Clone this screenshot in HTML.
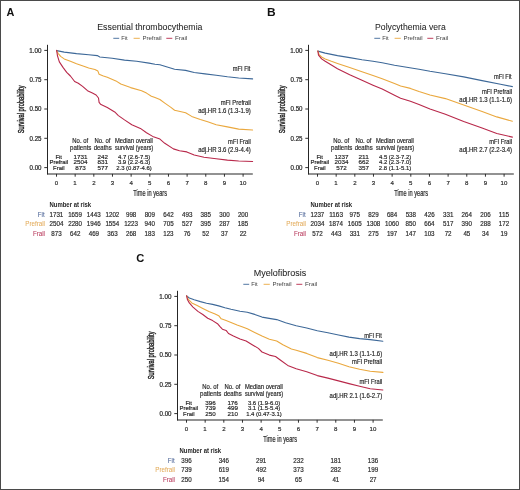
<!DOCTYPE html><html><head><meta charset="utf-8"><style>html,body{margin:0;padding:0;background:#fff;overflow:hidden;}svg{display:block;font-family:"Liberation Sans",sans-serif;filter:blur(0.3px);}</style></head><body>
<svg width="520" height="490" viewBox="0 0 520 490">
<rect x="0" y="0" width="520" height="490" fill="#fff"/>
<text x="6.53" y="15.70" font-size="11.41" font-weight="bold" fill="#111" textLength="7.86" lengthAdjust="spacingAndGlyphs">A</text>
<text x="97.28" y="29.90" font-size="9.74" fill="#1e1e1e" stroke="#1e1e1e" stroke-width="0.05" textLength="105.22" lengthAdjust="spacingAndGlyphs">Essential thrombocythemia</text>
<line x1="113.3" y1="38.3" x2="119.2" y2="38.3" stroke="#3d6898" stroke-width="0.9"/>
<text x="121.22" y="39.80" font-size="5.81" fill="#444" textLength="6.52" lengthAdjust="spacingAndGlyphs">Fit</text>
<line x1="133.6" y1="38.3" x2="139.8" y2="38.3" stroke="#eaa83e" stroke-width="0.9"/>
<text x="142.40" y="39.80" font-size="5.81" fill="#444" textLength="19.20" lengthAdjust="spacingAndGlyphs">Prefrail</text>
<line x1="166.3" y1="38.3" x2="172.3" y2="38.3" stroke="#b8284a" stroke-width="0.9"/>
<text x="174.98" y="39.80" font-size="5.81" fill="#444" textLength="12.24" lengthAdjust="spacingAndGlyphs">Frail</text>
<line x1="47.5" y1="44.8" x2="47.5" y2="174.4" stroke="#262626" stroke-width="1.05"/>
<line x1="47.0" y1="173.9" x2="252.8" y2="173.9" stroke="#262626" stroke-width="1.05"/>
<line x1="44.3" y1="50.40" x2="47.5" y2="50.40" stroke="#262626" stroke-width="0.95"/>
<text x="29.32" y="52.80" font-size="6.36" fill="#2a2a2a" stroke="#2a2a2a" stroke-width="0.22" textLength="12.22" lengthAdjust="spacingAndGlyphs">1.00</text>
<line x1="44.3" y1="79.70" x2="47.5" y2="79.70" stroke="#262626" stroke-width="0.95"/>
<text x="29.56" y="82.10" font-size="6.36" fill="#2a2a2a" stroke="#2a2a2a" stroke-width="0.22" textLength="12.00" lengthAdjust="spacingAndGlyphs">0.75</text>
<line x1="44.3" y1="109.00" x2="47.5" y2="109.00" stroke="#262626" stroke-width="0.95"/>
<text x="29.56" y="111.40" font-size="6.36" fill="#2a2a2a" stroke="#2a2a2a" stroke-width="0.22" textLength="11.98" lengthAdjust="spacingAndGlyphs">0.50</text>
<line x1="44.3" y1="138.30" x2="47.5" y2="138.30" stroke="#262626" stroke-width="0.95"/>
<text x="29.56" y="140.70" font-size="6.36" fill="#2a2a2a" stroke="#2a2a2a" stroke-width="0.22" textLength="12.00" lengthAdjust="spacingAndGlyphs">0.25</text>
<line x1="44.3" y1="167.60" x2="47.5" y2="167.60" stroke="#262626" stroke-width="0.95"/>
<text x="29.56" y="170.00" font-size="6.36" fill="#2a2a2a" stroke="#2a2a2a" stroke-width="0.22" textLength="11.98" lengthAdjust="spacingAndGlyphs">0.00</text>
<line x1="56.50" y1="173.9" x2="56.50" y2="176.7" stroke="#262626" stroke-width="0.95"/>
<text x="54.81" y="185.20" font-size="6.07" fill="#2a2a2a" stroke="#2a2a2a" stroke-width="0.18" textLength="3.38" lengthAdjust="spacingAndGlyphs">0</text>
<line x1="75.16" y1="173.9" x2="75.16" y2="176.7" stroke="#262626" stroke-width="0.95"/>
<text x="73.39" y="185.20" font-size="6.07" fill="#2a2a2a" stroke="#2a2a2a" stroke-width="0.18" textLength="3.38" lengthAdjust="spacingAndGlyphs">1</text>
<line x1="93.82" y1="173.9" x2="93.82" y2="176.7" stroke="#262626" stroke-width="0.95"/>
<text x="92.13" y="185.20" font-size="6.07" fill="#2a2a2a" stroke="#2a2a2a" stroke-width="0.18" textLength="3.38" lengthAdjust="spacingAndGlyphs">2</text>
<line x1="112.48" y1="173.9" x2="112.48" y2="176.7" stroke="#262626" stroke-width="0.95"/>
<text x="110.81" y="185.20" font-size="6.07" fill="#2a2a2a" stroke="#2a2a2a" stroke-width="0.18" textLength="3.38" lengthAdjust="spacingAndGlyphs">3</text>
<line x1="131.14" y1="173.9" x2="131.14" y2="176.7" stroke="#262626" stroke-width="0.95"/>
<text x="129.47" y="185.20" font-size="6.07" fill="#2a2a2a" stroke="#2a2a2a" stroke-width="0.18" textLength="3.38" lengthAdjust="spacingAndGlyphs">4</text>
<line x1="149.80" y1="173.9" x2="149.80" y2="176.7" stroke="#262626" stroke-width="0.95"/>
<text x="148.12" y="185.20" font-size="6.07" fill="#2a2a2a" stroke="#2a2a2a" stroke-width="0.18" textLength="3.38" lengthAdjust="spacingAndGlyphs">5</text>
<line x1="168.46" y1="173.9" x2="168.46" y2="176.7" stroke="#262626" stroke-width="0.95"/>
<text x="166.75" y="185.20" font-size="6.07" fill="#2a2a2a" stroke="#2a2a2a" stroke-width="0.18" textLength="3.38" lengthAdjust="spacingAndGlyphs">6</text>
<line x1="187.12" y1="173.9" x2="187.12" y2="176.7" stroke="#262626" stroke-width="0.95"/>
<text x="185.43" y="185.20" font-size="6.07" fill="#2a2a2a" stroke="#2a2a2a" stroke-width="0.18" textLength="3.38" lengthAdjust="spacingAndGlyphs">7</text>
<line x1="205.78" y1="173.9" x2="205.78" y2="176.7" stroke="#262626" stroke-width="0.95"/>
<text x="204.09" y="185.20" font-size="6.07" fill="#2a2a2a" stroke="#2a2a2a" stroke-width="0.18" textLength="3.38" lengthAdjust="spacingAndGlyphs">8</text>
<line x1="224.44" y1="173.9" x2="224.44" y2="176.7" stroke="#262626" stroke-width="0.95"/>
<text x="222.75" y="185.20" font-size="6.07" fill="#2a2a2a" stroke="#2a2a2a" stroke-width="0.18" textLength="3.38" lengthAdjust="spacingAndGlyphs">9</text>
<line x1="243.10" y1="173.9" x2="243.10" y2="176.7" stroke="#262626" stroke-width="0.95"/>
<text x="239.61" y="185.20" font-size="6.07" fill="#2a2a2a" stroke="#2a2a2a" stroke-width="0.18" textLength="6.76" lengthAdjust="spacingAndGlyphs">10</text>
<text x="133.37" y="196.40" font-size="8.43" fill="#2a2a2a" stroke="#2a2a2a" stroke-width="0.2" textLength="33.63" lengthAdjust="spacingAndGlyphs">Time in years</text>
<text transform="translate(24.0,133.0) rotate(-90)" x="-0.26" y="0" font-size="8.58" fill="#222" stroke="#222" stroke-width="0.4" textLength="47.77" lengthAdjust="spacingAndGlyphs">Survival probability</text>
<text x="72.31" y="142.90" font-size="6.70" fill="#262626" stroke="#262626" stroke-width="0.18" textLength="15.88" lengthAdjust="spacingAndGlyphs">No. of</text>
<text x="94.51" y="142.90" font-size="6.70" fill="#262626" stroke="#262626" stroke-width="0.18" textLength="15.88" lengthAdjust="spacingAndGlyphs">No. of</text>
<text x="114.92" y="142.90" font-size="6.70" fill="#262626" stroke="#262626" stroke-width="0.18" textLength="37.97" lengthAdjust="spacingAndGlyphs">Median overall</text>
<text x="70.01" y="149.80" font-size="6.70" fill="#262626" stroke="#262626" stroke-width="0.18" textLength="21.42" lengthAdjust="spacingAndGlyphs">patients</text>
<text x="93.65" y="149.80" font-size="6.70" fill="#262626" stroke="#262626" stroke-width="0.18" textLength="18.07" lengthAdjust="spacingAndGlyphs">deaths</text>
<text x="115.04" y="149.80" font-size="6.70" fill="#262626" stroke="#262626" stroke-width="0.18" textLength="38.21" lengthAdjust="spacingAndGlyphs">survival (years)</text>
<text x="55.38" y="158.60" font-size="6.25" fill="#262626" stroke="#262626" stroke-width="0.18" textLength="6.60" lengthAdjust="spacingAndGlyphs">Fit</text>
<text x="73.46" y="158.60" font-size="6.25" fill="#262626" stroke="#262626" stroke-width="0.18" textLength="13.90" lengthAdjust="spacingAndGlyphs">1731</text>
<text x="97.49" y="158.60" font-size="6.25" fill="#262626" stroke="#262626" stroke-width="0.18" textLength="10.43" lengthAdjust="spacingAndGlyphs">242</text>
<text x="117.94" y="158.60" font-size="6.25" fill="#262626" stroke="#262626" stroke-width="0.18" textLength="32.34" lengthAdjust="spacingAndGlyphs">4.7 (2.6-7.5)</text>
<text x="49.45" y="164.40" font-size="6.25" fill="#262626" stroke="#262626" stroke-width="0.18" textLength="18.81" lengthAdjust="spacingAndGlyphs">Prefrail</text>
<text x="73.48" y="164.40" font-size="6.25" fill="#262626" stroke="#262626" stroke-width="0.18" textLength="13.90" lengthAdjust="spacingAndGlyphs">2504</text>
<text x="97.50" y="164.40" font-size="6.25" fill="#262626" stroke="#262626" stroke-width="0.18" textLength="10.43" lengthAdjust="spacingAndGlyphs">831</text>
<text x="117.90" y="164.40" font-size="6.25" fill="#262626" stroke="#262626" stroke-width="0.18" textLength="32.34" lengthAdjust="spacingAndGlyphs">3.9 (2.2-6.3)</text>
<text x="53.08" y="170.20" font-size="6.25" fill="#262626" stroke="#262626" stroke-width="0.18" textLength="11.54" lengthAdjust="spacingAndGlyphs">Frail</text>
<text x="75.29" y="170.20" font-size="6.25" fill="#262626" stroke="#262626" stroke-width="0.18" textLength="10.43" lengthAdjust="spacingAndGlyphs">873</text>
<text x="97.52" y="170.20" font-size="6.25" fill="#262626" stroke="#262626" stroke-width="0.18" textLength="10.43" lengthAdjust="spacingAndGlyphs">577</text>
<text x="116.21" y="170.20" font-size="6.25" fill="#262626" stroke="#262626" stroke-width="0.18" textLength="35.65" lengthAdjust="spacingAndGlyphs">2.3 (0.87-4.6)</text>
<text x="232.82" y="70.70" font-size="6.70" fill="#262626" stroke="#262626" stroke-width="0.18" textLength="17.62" lengthAdjust="spacingAndGlyphs">mFI Fit</text>
<text x="220.71" y="104.90" font-size="6.70" fill="#262626" stroke="#262626" stroke-width="0.18" textLength="30.08" lengthAdjust="spacingAndGlyphs">mFI Prefrail</text>
<text x="198.15" y="112.80" font-size="6.70" fill="#262626" stroke="#262626" stroke-width="0.18" textLength="52.63" lengthAdjust="spacingAndGlyphs">adj.HR 1.6 (1.3-1.9)</text>
<text x="228.12" y="143.90" font-size="6.70" fill="#262626" stroke="#262626" stroke-width="0.18" textLength="22.67" lengthAdjust="spacingAndGlyphs">mFI Frail</text>
<text x="198.15" y="151.80" font-size="6.70" fill="#262626" stroke="#262626" stroke-width="0.18" textLength="52.63" lengthAdjust="spacingAndGlyphs">adj.HR 3.6 (2.9-4.4)</text>
<polyline points="56.65,50.65 64.20,52.10 76.50,53.60 88.70,54.80 97.30,55.60 99.75,57.00 112.20,58.20 124.50,60.10 136.70,61.30 149.00,63.10 155.00,64.30 159.90,64.80 167.20,67.00 174.60,69.20 185.60,70.40 194.20,72.50 205.00,73.90 216.20,75.30 227.40,76.80 238.70,78.00 252.60,78.90" fill="none" stroke="#3d6898" stroke-width="1.1" stroke-linejoin="round" stroke-linecap="round"/>
<polyline points="56.65,50.65 58.10,53.30 60.60,56.40 64.20,58.90 70.40,61.30 76.50,63.75 83.80,66.20 88.70,68.00 94.90,69.50 97.90,71.10 99.10,74.20 103.40,76.00 107.30,77.20 115.90,80.90 120.80,84.00 130.60,87.60 141.60,90.70 146.50,93.10 151.40,96.20 155.00,97.60 159.90,99.50 164.80,103.10 170.90,107.40 174.60,110.30 185.60,112.70 191.70,116.40 200.30,119.50 207.70,121.80 216.20,124.70 227.40,126.90 238.70,129.10 252.60,130.00" fill="none" stroke="#eaa83e" stroke-width="1.1" stroke-linejoin="round" stroke-linecap="round"/>
<polyline points="56.65,50.30 57.50,55.80 59.35,61.90 63.00,67.40 66.70,72.30 70.40,76.00 74.65,81.50 78.30,83.30 82.60,86.40 87.50,90.70 92.40,93.10 96.10,95.00 98.50,98.00 99.10,102.30 100.50,104.20 107.30,107.60 114.70,111.90 118.40,115.60 124.50,119.90 131.80,124.80 140.40,128.40 146.50,132.70 152.70,136.40 159.90,139.10 164.80,143.30 173.40,148.90 179.50,150.70 186.80,151.90 194.20,155.00 204.00,157.20 216.20,158.80 227.40,160.10 238.70,161.00 252.60,161.50" fill="none" stroke="#b8284a" stroke-width="1.1" stroke-linejoin="round" stroke-linecap="round"/>
<text x="49.50" y="206.80" font-size="6.54" font-weight="bold" fill="#262626" textLength="41.69" lengthAdjust="spacingAndGlyphs">Number at risk</text>
<text x="37.74" y="216.70" font-size="6.54" fill="#4f6799" stroke="#4f6799" stroke-width="0.05" textLength="6.90" lengthAdjust="spacingAndGlyphs">Fit</text>
<text x="49.50" y="216.70" font-size="6.54" fill="#2a2a2a" stroke="#2a2a2a" stroke-width="0.18" textLength="13.82" lengthAdjust="spacingAndGlyphs">1731</text>
<text x="68.16" y="216.70" font-size="6.54" fill="#2a2a2a" stroke="#2a2a2a" stroke-width="0.18" textLength="13.82" lengthAdjust="spacingAndGlyphs">1659</text>
<text x="86.81" y="216.70" font-size="6.54" fill="#2a2a2a" stroke="#2a2a2a" stroke-width="0.18" textLength="13.82" lengthAdjust="spacingAndGlyphs">1443</text>
<text x="105.49" y="216.70" font-size="6.54" fill="#2a2a2a" stroke="#2a2a2a" stroke-width="0.18" textLength="13.82" lengthAdjust="spacingAndGlyphs">1202</text>
<text x="125.95" y="216.70" font-size="6.54" fill="#2a2a2a" stroke="#2a2a2a" stroke-width="0.18" textLength="10.37" lengthAdjust="spacingAndGlyphs">998</text>
<text x="144.63" y="216.70" font-size="6.54" fill="#2a2a2a" stroke="#2a2a2a" stroke-width="0.18" textLength="10.37" lengthAdjust="spacingAndGlyphs">809</text>
<text x="163.27" y="216.70" font-size="6.54" fill="#2a2a2a" stroke="#2a2a2a" stroke-width="0.18" textLength="10.37" lengthAdjust="spacingAndGlyphs">642</text>
<text x="182.00" y="216.70" font-size="6.54" fill="#2a2a2a" stroke="#2a2a2a" stroke-width="0.18" textLength="10.37" lengthAdjust="spacingAndGlyphs">493</text>
<text x="200.61" y="216.70" font-size="6.54" fill="#2a2a2a" stroke="#2a2a2a" stroke-width="0.18" textLength="10.37" lengthAdjust="spacingAndGlyphs">385</text>
<text x="219.26" y="216.70" font-size="6.54" fill="#2a2a2a" stroke="#2a2a2a" stroke-width="0.18" textLength="10.37" lengthAdjust="spacingAndGlyphs">300</text>
<text x="237.88" y="216.70" font-size="6.54" fill="#2a2a2a" stroke="#2a2a2a" stroke-width="0.18" textLength="10.37" lengthAdjust="spacingAndGlyphs">200</text>
<text x="25.33" y="226.40" font-size="6.54" fill="#e3ac5c" stroke="#e3ac5c" stroke-width="0.05" textLength="19.68" lengthAdjust="spacingAndGlyphs">Prefrail</text>
<text x="49.52" y="226.40" font-size="6.54" fill="#2a2a2a" stroke="#2a2a2a" stroke-width="0.18" textLength="13.82" lengthAdjust="spacingAndGlyphs">2504</text>
<text x="68.21" y="226.40" font-size="6.54" fill="#2a2a2a" stroke="#2a2a2a" stroke-width="0.18" textLength="13.82" lengthAdjust="spacingAndGlyphs">2280</text>
<text x="86.81" y="226.40" font-size="6.54" fill="#2a2a2a" stroke="#2a2a2a" stroke-width="0.18" textLength="13.82" lengthAdjust="spacingAndGlyphs">1946</text>
<text x="105.42" y="226.40" font-size="6.54" fill="#2a2a2a" stroke="#2a2a2a" stroke-width="0.18" textLength="13.82" lengthAdjust="spacingAndGlyphs">1554</text>
<text x="124.13" y="226.40" font-size="6.54" fill="#2a2a2a" stroke="#2a2a2a" stroke-width="0.18" textLength="13.82" lengthAdjust="spacingAndGlyphs">1223</text>
<text x="144.59" y="226.40" font-size="6.54" fill="#2a2a2a" stroke="#2a2a2a" stroke-width="0.18" textLength="10.37" lengthAdjust="spacingAndGlyphs">940</text>
<text x="163.25" y="226.40" font-size="6.54" fill="#2a2a2a" stroke="#2a2a2a" stroke-width="0.18" textLength="10.37" lengthAdjust="spacingAndGlyphs">705</text>
<text x="181.97" y="226.40" font-size="6.54" fill="#2a2a2a" stroke="#2a2a2a" stroke-width="0.18" textLength="10.37" lengthAdjust="spacingAndGlyphs">527</text>
<text x="200.61" y="226.40" font-size="6.54" fill="#2a2a2a" stroke="#2a2a2a" stroke-width="0.18" textLength="10.37" lengthAdjust="spacingAndGlyphs">395</text>
<text x="219.26" y="226.40" font-size="6.54" fill="#2a2a2a" stroke="#2a2a2a" stroke-width="0.18" textLength="10.37" lengthAdjust="spacingAndGlyphs">287</text>
<text x="237.81" y="226.40" font-size="6.54" fill="#2a2a2a" stroke="#2a2a2a" stroke-width="0.18" textLength="10.37" lengthAdjust="spacingAndGlyphs">185</text>
<text x="32.93" y="235.80" font-size="6.54" fill="#b83a5c" stroke="#b83a5c" stroke-width="0.05" textLength="12.08" lengthAdjust="spacingAndGlyphs">Frail</text>
<text x="51.32" y="235.80" font-size="6.54" fill="#2a2a2a" stroke="#2a2a2a" stroke-width="0.18" textLength="10.37" lengthAdjust="spacingAndGlyphs">873</text>
<text x="69.97" y="235.80" font-size="6.54" fill="#2a2a2a" stroke="#2a2a2a" stroke-width="0.18" textLength="10.37" lengthAdjust="spacingAndGlyphs">642</text>
<text x="88.71" y="235.80" font-size="6.54" fill="#2a2a2a" stroke="#2a2a2a" stroke-width="0.18" textLength="10.37" lengthAdjust="spacingAndGlyphs">469</text>
<text x="107.31" y="235.80" font-size="6.54" fill="#2a2a2a" stroke="#2a2a2a" stroke-width="0.18" textLength="10.37" lengthAdjust="spacingAndGlyphs">363</text>
<text x="125.94" y="235.80" font-size="6.54" fill="#2a2a2a" stroke="#2a2a2a" stroke-width="0.18" textLength="10.37" lengthAdjust="spacingAndGlyphs">268</text>
<text x="144.52" y="235.80" font-size="6.54" fill="#2a2a2a" stroke="#2a2a2a" stroke-width="0.18" textLength="10.37" lengthAdjust="spacingAndGlyphs">183</text>
<text x="163.18" y="235.80" font-size="6.54" fill="#2a2a2a" stroke="#2a2a2a" stroke-width="0.18" textLength="10.37" lengthAdjust="spacingAndGlyphs">123</text>
<text x="183.64" y="235.80" font-size="6.54" fill="#2a2a2a" stroke="#2a2a2a" stroke-width="0.18" textLength="6.91" lengthAdjust="spacingAndGlyphs">76</text>
<text x="202.36" y="235.80" font-size="6.54" fill="#2a2a2a" stroke="#2a2a2a" stroke-width="0.18" textLength="6.91" lengthAdjust="spacingAndGlyphs">52</text>
<text x="221.02" y="235.80" font-size="6.54" fill="#2a2a2a" stroke="#2a2a2a" stroke-width="0.18" textLength="6.91" lengthAdjust="spacingAndGlyphs">37</text>
<text x="239.64" y="235.80" font-size="6.54" fill="#2a2a2a" stroke="#2a2a2a" stroke-width="0.18" textLength="6.91" lengthAdjust="spacingAndGlyphs">22</text>
<text x="267.00" y="15.70" font-size="11.41" font-weight="bold" fill="#111" textLength="8.64" lengthAdjust="spacingAndGlyphs">B</text>
<text x="375.09" y="29.90" font-size="9.74" fill="#1e1e1e" stroke="#1e1e1e" stroke-width="0.05" textLength="70.71" lengthAdjust="spacingAndGlyphs">Polycythemia vera</text>
<line x1="374.3" y1="38.3" x2="380.2" y2="38.3" stroke="#3d6898" stroke-width="0.9"/>
<text x="382.22" y="39.80" font-size="5.81" fill="#444" textLength="6.52" lengthAdjust="spacingAndGlyphs">Fit</text>
<line x1="394.6" y1="38.3" x2="400.8" y2="38.3" stroke="#eaa83e" stroke-width="0.9"/>
<text x="403.40" y="39.80" font-size="5.81" fill="#444" textLength="19.20" lengthAdjust="spacingAndGlyphs">Prefrail</text>
<line x1="427.3" y1="38.3" x2="433.3" y2="38.3" stroke="#b8284a" stroke-width="0.9"/>
<text x="435.98" y="39.80" font-size="5.81" fill="#444" textLength="12.24" lengthAdjust="spacingAndGlyphs">Frail</text>
<line x1="308.5" y1="44.8" x2="308.5" y2="174.4" stroke="#262626" stroke-width="1.05"/>
<line x1="308.0" y1="173.9" x2="513.8" y2="173.9" stroke="#262626" stroke-width="1.05"/>
<line x1="305.3" y1="50.40" x2="308.5" y2="50.40" stroke="#262626" stroke-width="0.95"/>
<text x="290.32" y="52.80" font-size="6.36" fill="#2a2a2a" stroke="#2a2a2a" stroke-width="0.22" textLength="12.22" lengthAdjust="spacingAndGlyphs">1.00</text>
<line x1="305.3" y1="79.70" x2="308.5" y2="79.70" stroke="#262626" stroke-width="0.95"/>
<text x="290.56" y="82.10" font-size="6.36" fill="#2a2a2a" stroke="#2a2a2a" stroke-width="0.22" textLength="12.00" lengthAdjust="spacingAndGlyphs">0.75</text>
<line x1="305.3" y1="109.00" x2="308.5" y2="109.00" stroke="#262626" stroke-width="0.95"/>
<text x="290.56" y="111.40" font-size="6.36" fill="#2a2a2a" stroke="#2a2a2a" stroke-width="0.22" textLength="11.98" lengthAdjust="spacingAndGlyphs">0.50</text>
<line x1="305.3" y1="138.30" x2="308.5" y2="138.30" stroke="#262626" stroke-width="0.95"/>
<text x="290.56" y="140.70" font-size="6.36" fill="#2a2a2a" stroke="#2a2a2a" stroke-width="0.22" textLength="12.00" lengthAdjust="spacingAndGlyphs">0.25</text>
<line x1="305.3" y1="167.60" x2="308.5" y2="167.60" stroke="#262626" stroke-width="0.95"/>
<text x="290.56" y="170.00" font-size="6.36" fill="#2a2a2a" stroke="#2a2a2a" stroke-width="0.22" textLength="11.98" lengthAdjust="spacingAndGlyphs">0.00</text>
<line x1="317.50" y1="173.9" x2="317.50" y2="176.7" stroke="#262626" stroke-width="0.95"/>
<text x="315.81" y="185.20" font-size="6.07" fill="#2a2a2a" stroke="#2a2a2a" stroke-width="0.18" textLength="3.38" lengthAdjust="spacingAndGlyphs">0</text>
<line x1="336.16" y1="173.9" x2="336.16" y2="176.7" stroke="#262626" stroke-width="0.95"/>
<text x="334.39" y="185.20" font-size="6.07" fill="#2a2a2a" stroke="#2a2a2a" stroke-width="0.18" textLength="3.38" lengthAdjust="spacingAndGlyphs">1</text>
<line x1="354.82" y1="173.9" x2="354.82" y2="176.7" stroke="#262626" stroke-width="0.95"/>
<text x="353.13" y="185.20" font-size="6.07" fill="#2a2a2a" stroke="#2a2a2a" stroke-width="0.18" textLength="3.38" lengthAdjust="spacingAndGlyphs">2</text>
<line x1="373.48" y1="173.9" x2="373.48" y2="176.7" stroke="#262626" stroke-width="0.95"/>
<text x="371.81" y="185.20" font-size="6.07" fill="#2a2a2a" stroke="#2a2a2a" stroke-width="0.18" textLength="3.38" lengthAdjust="spacingAndGlyphs">3</text>
<line x1="392.14" y1="173.9" x2="392.14" y2="176.7" stroke="#262626" stroke-width="0.95"/>
<text x="390.47" y="185.20" font-size="6.07" fill="#2a2a2a" stroke="#2a2a2a" stroke-width="0.18" textLength="3.38" lengthAdjust="spacingAndGlyphs">4</text>
<line x1="410.80" y1="173.9" x2="410.80" y2="176.7" stroke="#262626" stroke-width="0.95"/>
<text x="409.12" y="185.20" font-size="6.07" fill="#2a2a2a" stroke="#2a2a2a" stroke-width="0.18" textLength="3.38" lengthAdjust="spacingAndGlyphs">5</text>
<line x1="429.46" y1="173.9" x2="429.46" y2="176.7" stroke="#262626" stroke-width="0.95"/>
<text x="427.75" y="185.20" font-size="6.07" fill="#2a2a2a" stroke="#2a2a2a" stroke-width="0.18" textLength="3.38" lengthAdjust="spacingAndGlyphs">6</text>
<line x1="448.12" y1="173.9" x2="448.12" y2="176.7" stroke="#262626" stroke-width="0.95"/>
<text x="446.43" y="185.20" font-size="6.07" fill="#2a2a2a" stroke="#2a2a2a" stroke-width="0.18" textLength="3.38" lengthAdjust="spacingAndGlyphs">7</text>
<line x1="466.78" y1="173.9" x2="466.78" y2="176.7" stroke="#262626" stroke-width="0.95"/>
<text x="465.09" y="185.20" font-size="6.07" fill="#2a2a2a" stroke="#2a2a2a" stroke-width="0.18" textLength="3.38" lengthAdjust="spacingAndGlyphs">8</text>
<line x1="485.44" y1="173.9" x2="485.44" y2="176.7" stroke="#262626" stroke-width="0.95"/>
<text x="483.75" y="185.20" font-size="6.07" fill="#2a2a2a" stroke="#2a2a2a" stroke-width="0.18" textLength="3.38" lengthAdjust="spacingAndGlyphs">9</text>
<line x1="504.10" y1="173.9" x2="504.10" y2="176.7" stroke="#262626" stroke-width="0.95"/>
<text x="500.61" y="185.20" font-size="6.07" fill="#2a2a2a" stroke="#2a2a2a" stroke-width="0.18" textLength="6.76" lengthAdjust="spacingAndGlyphs">10</text>
<text x="394.37" y="196.40" font-size="8.43" fill="#2a2a2a" stroke="#2a2a2a" stroke-width="0.2" textLength="33.63" lengthAdjust="spacingAndGlyphs">Time in years</text>
<text transform="translate(285.0,133.0) rotate(-90)" x="-0.26" y="0" font-size="8.58" fill="#222" stroke="#222" stroke-width="0.4" textLength="47.77" lengthAdjust="spacingAndGlyphs">Survival probability</text>
<text x="333.31" y="142.90" font-size="6.70" fill="#262626" stroke="#262626" stroke-width="0.18" textLength="15.88" lengthAdjust="spacingAndGlyphs">No. of</text>
<text x="355.51" y="142.90" font-size="6.70" fill="#262626" stroke="#262626" stroke-width="0.18" textLength="15.88" lengthAdjust="spacingAndGlyphs">No. of</text>
<text x="375.92" y="142.90" font-size="6.70" fill="#262626" stroke="#262626" stroke-width="0.18" textLength="37.97" lengthAdjust="spacingAndGlyphs">Median overall</text>
<text x="331.01" y="149.80" font-size="6.70" fill="#262626" stroke="#262626" stroke-width="0.18" textLength="21.42" lengthAdjust="spacingAndGlyphs">patients</text>
<text x="354.65" y="149.80" font-size="6.70" fill="#262626" stroke="#262626" stroke-width="0.18" textLength="18.07" lengthAdjust="spacingAndGlyphs">deaths</text>
<text x="376.04" y="149.80" font-size="6.70" fill="#262626" stroke="#262626" stroke-width="0.18" textLength="38.21" lengthAdjust="spacingAndGlyphs">survival (years)</text>
<text x="316.38" y="158.60" font-size="6.25" fill="#262626" stroke="#262626" stroke-width="0.18" textLength="6.60" lengthAdjust="spacingAndGlyphs">Fit</text>
<text x="334.47" y="158.60" font-size="6.25" fill="#262626" stroke="#262626" stroke-width="0.18" textLength="13.90" lengthAdjust="spacingAndGlyphs">1237</text>
<text x="358.48" y="158.60" font-size="6.25" fill="#262626" stroke="#262626" stroke-width="0.18" textLength="10.43" lengthAdjust="spacingAndGlyphs">211</text>
<text x="378.94" y="158.60" font-size="6.25" fill="#262626" stroke="#262626" stroke-width="0.18" textLength="32.34" lengthAdjust="spacingAndGlyphs">4.5 (2.3-7.2)</text>
<text x="310.45" y="164.40" font-size="6.25" fill="#262626" stroke="#262626" stroke-width="0.18" textLength="18.81" lengthAdjust="spacingAndGlyphs">Prefrail</text>
<text x="334.48" y="164.40" font-size="6.25" fill="#262626" stroke="#262626" stroke-width="0.18" textLength="13.90" lengthAdjust="spacingAndGlyphs">2034</text>
<text x="358.48" y="164.40" font-size="6.25" fill="#262626" stroke="#262626" stroke-width="0.18" textLength="10.43" lengthAdjust="spacingAndGlyphs">662</text>
<text x="378.94" y="164.40" font-size="6.25" fill="#262626" stroke="#262626" stroke-width="0.18" textLength="32.34" lengthAdjust="spacingAndGlyphs">4.2 (2.3-7.0)</text>
<text x="314.08" y="170.20" font-size="6.25" fill="#262626" stroke="#262626" stroke-width="0.18" textLength="11.54" lengthAdjust="spacingAndGlyphs">Frail</text>
<text x="336.32" y="170.20" font-size="6.25" fill="#262626" stroke="#262626" stroke-width="0.18" textLength="10.43" lengthAdjust="spacingAndGlyphs">572</text>
<text x="358.52" y="170.20" font-size="6.25" fill="#262626" stroke="#262626" stroke-width="0.18" textLength="10.43" lengthAdjust="spacingAndGlyphs">357</text>
<text x="378.86" y="170.20" font-size="6.25" fill="#262626" stroke="#262626" stroke-width="0.18" textLength="32.34" lengthAdjust="spacingAndGlyphs">2.8 (1.1-5.1)</text>
<text x="494.02" y="78.70" font-size="6.70" fill="#262626" stroke="#262626" stroke-width="0.18" textLength="17.62" lengthAdjust="spacingAndGlyphs">mFI Fit</text>
<text x="481.91" y="93.70" font-size="6.70" fill="#262626" stroke="#262626" stroke-width="0.18" textLength="30.08" lengthAdjust="spacingAndGlyphs">mFI Prefrail</text>
<text x="459.35" y="101.50" font-size="6.70" fill="#262626" stroke="#262626" stroke-width="0.18" textLength="52.63" lengthAdjust="spacingAndGlyphs">adj.HR 1.3 (1.1-1.6)</text>
<text x="489.32" y="144.20" font-size="6.70" fill="#262626" stroke="#262626" stroke-width="0.18" textLength="22.67" lengthAdjust="spacingAndGlyphs">mFI Frail</text>
<text x="459.35" y="152.00" font-size="6.70" fill="#262626" stroke="#262626" stroke-width="0.18" textLength="52.63" lengthAdjust="spacingAndGlyphs">adj.HR 2.7 (2.2-3.4)</text>
<polyline points="317.90,51.10 325.20,53.10 337.50,55.60 349.70,57.60 362.00,59.70 373.00,61.30 382.20,62.70 394.50,65.20 406.70,67.30 419.00,69.20 430.00,71.30 445.40,73.80 463.70,76.90 482.10,80.60 500.50,84.30 512.40,86.60" fill="none" stroke="#3d6898" stroke-width="1.1" stroke-linejoin="round" stroke-linecap="round"/>
<polyline points="317.90,51.10 319.10,54.60 321.60,57.00 325.20,58.90 331.40,61.30 337.50,63.40 349.70,67.40 362.00,71.70 373.00,75.40 382.20,78.70 394.50,83.60 400.60,86.00 410.40,88.40 419.00,91.50 430.00,95.00 445.40,98.60 463.70,105.00 482.10,111.40 496.80,116.90 512.40,121.20" fill="none" stroke="#eaa83e" stroke-width="1.1" stroke-linejoin="round" stroke-linecap="round"/>
<polyline points="317.90,51.10 318.50,55.20 321.60,58.90 325.20,61.30 331.40,65.00 337.50,68.70 349.70,74.80 362.00,80.30 373.00,85.20 382.20,89.10 394.50,95.20 400.60,98.20 410.40,101.30 419.00,104.40 430.00,109.00 445.40,114.20 463.70,121.50 482.10,128.00 496.80,133.50 512.40,137.10" fill="none" stroke="#b8284a" stroke-width="1.1" stroke-linejoin="round" stroke-linecap="round"/>
<text x="310.50" y="206.80" font-size="6.54" font-weight="bold" fill="#262626" textLength="41.69" lengthAdjust="spacingAndGlyphs">Number at risk</text>
<text x="298.74" y="216.70" font-size="6.54" fill="#4f6799" stroke="#4f6799" stroke-width="0.05" textLength="6.90" lengthAdjust="spacingAndGlyphs">Fit</text>
<text x="310.51" y="216.70" font-size="6.54" fill="#2a2a2a" stroke="#2a2a2a" stroke-width="0.18" textLength="13.82" lengthAdjust="spacingAndGlyphs">1237</text>
<text x="329.15" y="216.70" font-size="6.54" fill="#2a2a2a" stroke="#2a2a2a" stroke-width="0.18" textLength="13.82" lengthAdjust="spacingAndGlyphs">1163</text>
<text x="349.62" y="216.70" font-size="6.54" fill="#2a2a2a" stroke="#2a2a2a" stroke-width="0.18" textLength="10.37" lengthAdjust="spacingAndGlyphs">975</text>
<text x="368.31" y="216.70" font-size="6.54" fill="#2a2a2a" stroke="#2a2a2a" stroke-width="0.18" textLength="10.37" lengthAdjust="spacingAndGlyphs">829</text>
<text x="386.89" y="216.70" font-size="6.54" fill="#2a2a2a" stroke="#2a2a2a" stroke-width="0.18" textLength="10.37" lengthAdjust="spacingAndGlyphs">684</text>
<text x="405.63" y="216.70" font-size="6.54" fill="#2a2a2a" stroke="#2a2a2a" stroke-width="0.18" textLength="10.37" lengthAdjust="spacingAndGlyphs">538</text>
<text x="424.34" y="216.70" font-size="6.54" fill="#2a2a2a" stroke="#2a2a2a" stroke-width="0.18" textLength="10.37" lengthAdjust="spacingAndGlyphs">426</text>
<text x="442.97" y="216.70" font-size="6.54" fill="#2a2a2a" stroke="#2a2a2a" stroke-width="0.18" textLength="10.37" lengthAdjust="spacingAndGlyphs">331</text>
<text x="461.53" y="216.70" font-size="6.54" fill="#2a2a2a" stroke="#2a2a2a" stroke-width="0.18" textLength="10.37" lengthAdjust="spacingAndGlyphs">264</text>
<text x="480.24" y="216.70" font-size="6.54" fill="#2a2a2a" stroke="#2a2a2a" stroke-width="0.18" textLength="10.37" lengthAdjust="spacingAndGlyphs">206</text>
<text x="498.81" y="216.70" font-size="6.54" fill="#2a2a2a" stroke="#2a2a2a" stroke-width="0.18" textLength="10.37" lengthAdjust="spacingAndGlyphs">115</text>
<text x="286.33" y="226.40" font-size="6.54" fill="#e3ac5c" stroke="#e3ac5c" stroke-width="0.05" textLength="19.68" lengthAdjust="spacingAndGlyphs">Prefrail</text>
<text x="310.52" y="226.40" font-size="6.54" fill="#2a2a2a" stroke="#2a2a2a" stroke-width="0.18" textLength="13.82" lengthAdjust="spacingAndGlyphs">2034</text>
<text x="329.10" y="226.40" font-size="6.54" fill="#2a2a2a" stroke="#2a2a2a" stroke-width="0.18" textLength="13.82" lengthAdjust="spacingAndGlyphs">1874</text>
<text x="347.80" y="226.40" font-size="6.54" fill="#2a2a2a" stroke="#2a2a2a" stroke-width="0.18" textLength="13.82" lengthAdjust="spacingAndGlyphs">1605</text>
<text x="366.47" y="226.40" font-size="6.54" fill="#2a2a2a" stroke="#2a2a2a" stroke-width="0.18" textLength="13.82" lengthAdjust="spacingAndGlyphs">1308</text>
<text x="385.11" y="226.40" font-size="6.54" fill="#2a2a2a" stroke="#2a2a2a" stroke-width="0.18" textLength="13.82" lengthAdjust="spacingAndGlyphs">1060</text>
<text x="405.60" y="226.40" font-size="6.54" fill="#2a2a2a" stroke="#2a2a2a" stroke-width="0.18" textLength="10.37" lengthAdjust="spacingAndGlyphs">850</text>
<text x="424.21" y="226.40" font-size="6.54" fill="#2a2a2a" stroke="#2a2a2a" stroke-width="0.18" textLength="10.37" lengthAdjust="spacingAndGlyphs">664</text>
<text x="442.97" y="226.40" font-size="6.54" fill="#2a2a2a" stroke="#2a2a2a" stroke-width="0.18" textLength="10.37" lengthAdjust="spacingAndGlyphs">517</text>
<text x="461.60" y="226.40" font-size="6.54" fill="#2a2a2a" stroke="#2a2a2a" stroke-width="0.18" textLength="10.37" lengthAdjust="spacingAndGlyphs">390</text>
<text x="480.24" y="226.40" font-size="6.54" fill="#2a2a2a" stroke="#2a2a2a" stroke-width="0.18" textLength="10.37" lengthAdjust="spacingAndGlyphs">288</text>
<text x="498.84" y="226.40" font-size="6.54" fill="#2a2a2a" stroke="#2a2a2a" stroke-width="0.18" textLength="10.37" lengthAdjust="spacingAndGlyphs">172</text>
<text x="293.93" y="235.80" font-size="6.54" fill="#b83a5c" stroke="#b83a5c" stroke-width="0.05" textLength="12.08" lengthAdjust="spacingAndGlyphs">Frail</text>
<text x="312.35" y="235.80" font-size="6.54" fill="#2a2a2a" stroke="#2a2a2a" stroke-width="0.18" textLength="10.37" lengthAdjust="spacingAndGlyphs">572</text>
<text x="331.04" y="235.80" font-size="6.54" fill="#2a2a2a" stroke="#2a2a2a" stroke-width="0.18" textLength="10.37" lengthAdjust="spacingAndGlyphs">443</text>
<text x="349.67" y="235.80" font-size="6.54" fill="#2a2a2a" stroke="#2a2a2a" stroke-width="0.18" textLength="10.37" lengthAdjust="spacingAndGlyphs">331</text>
<text x="368.27" y="235.80" font-size="6.54" fill="#2a2a2a" stroke="#2a2a2a" stroke-width="0.18" textLength="10.37" lengthAdjust="spacingAndGlyphs">275</text>
<text x="386.88" y="235.80" font-size="6.54" fill="#2a2a2a" stroke="#2a2a2a" stroke-width="0.18" textLength="10.37" lengthAdjust="spacingAndGlyphs">197</text>
<text x="405.54" y="235.80" font-size="6.54" fill="#2a2a2a" stroke="#2a2a2a" stroke-width="0.18" textLength="10.37" lengthAdjust="spacingAndGlyphs">147</text>
<text x="424.18" y="235.80" font-size="6.54" fill="#2a2a2a" stroke="#2a2a2a" stroke-width="0.18" textLength="10.37" lengthAdjust="spacingAndGlyphs">103</text>
<text x="444.66" y="235.80" font-size="6.54" fill="#2a2a2a" stroke="#2a2a2a" stroke-width="0.18" textLength="6.91" lengthAdjust="spacingAndGlyphs">72</text>
<text x="463.38" y="235.80" font-size="6.54" fill="#2a2a2a" stroke="#2a2a2a" stroke-width="0.18" textLength="6.91" lengthAdjust="spacingAndGlyphs">45</text>
<text x="481.96" y="235.80" font-size="6.54" fill="#2a2a2a" stroke="#2a2a2a" stroke-width="0.18" textLength="6.91" lengthAdjust="spacingAndGlyphs">34</text>
<text x="500.55" y="235.80" font-size="6.54" fill="#2a2a2a" stroke="#2a2a2a" stroke-width="0.18" textLength="6.91" lengthAdjust="spacingAndGlyphs">19</text>
<text x="136.34" y="261.70" font-size="11.41" font-weight="bold" fill="#111" textLength="8.06" lengthAdjust="spacingAndGlyphs">C</text>
<text x="253.86" y="275.90" font-size="9.74" fill="#1e1e1e" stroke="#1e1e1e" stroke-width="0.05" textLength="52.46" lengthAdjust="spacingAndGlyphs">Myelofibrosis</text>
<line x1="243.3" y1="284.3" x2="249.2" y2="284.3" stroke="#3d6898" stroke-width="0.9"/>
<text x="251.22" y="285.80" font-size="5.81" fill="#444" textLength="6.52" lengthAdjust="spacingAndGlyphs">Fit</text>
<line x1="263.6" y1="284.3" x2="269.8" y2="284.3" stroke="#eaa83e" stroke-width="0.9"/>
<text x="272.40" y="285.80" font-size="5.81" fill="#444" textLength="19.20" lengthAdjust="spacingAndGlyphs">Prefrail</text>
<line x1="296.3" y1="284.3" x2="302.3" y2="284.3" stroke="#b8284a" stroke-width="0.9"/>
<text x="304.98" y="285.80" font-size="5.81" fill="#444" textLength="12.24" lengthAdjust="spacingAndGlyphs">Frail</text>
<line x1="177.5" y1="290.8" x2="177.5" y2="420.4" stroke="#262626" stroke-width="1.05"/>
<line x1="177.0" y1="419.9" x2="382.8" y2="419.9" stroke="#262626" stroke-width="1.05"/>
<line x1="174.3" y1="296.40" x2="177.5" y2="296.40" stroke="#262626" stroke-width="0.95"/>
<text x="159.32" y="298.80" font-size="6.36" fill="#2a2a2a" stroke="#2a2a2a" stroke-width="0.22" textLength="12.22" lengthAdjust="spacingAndGlyphs">1.00</text>
<line x1="174.3" y1="325.70" x2="177.5" y2="325.70" stroke="#262626" stroke-width="0.95"/>
<text x="159.56" y="328.10" font-size="6.36" fill="#2a2a2a" stroke="#2a2a2a" stroke-width="0.22" textLength="12.00" lengthAdjust="spacingAndGlyphs">0.75</text>
<line x1="174.3" y1="355.00" x2="177.5" y2="355.00" stroke="#262626" stroke-width="0.95"/>
<text x="159.56" y="357.40" font-size="6.36" fill="#2a2a2a" stroke="#2a2a2a" stroke-width="0.22" textLength="11.98" lengthAdjust="spacingAndGlyphs">0.50</text>
<line x1="174.3" y1="384.30" x2="177.5" y2="384.30" stroke="#262626" stroke-width="0.95"/>
<text x="159.56" y="386.70" font-size="6.36" fill="#2a2a2a" stroke="#2a2a2a" stroke-width="0.22" textLength="12.00" lengthAdjust="spacingAndGlyphs">0.25</text>
<line x1="174.3" y1="413.60" x2="177.5" y2="413.60" stroke="#262626" stroke-width="0.95"/>
<text x="159.56" y="416.00" font-size="6.36" fill="#2a2a2a" stroke="#2a2a2a" stroke-width="0.22" textLength="11.98" lengthAdjust="spacingAndGlyphs">0.00</text>
<line x1="186.50" y1="419.9" x2="186.50" y2="422.7" stroke="#262626" stroke-width="0.95"/>
<text x="184.81" y="431.20" font-size="6.07" fill="#2a2a2a" stroke="#2a2a2a" stroke-width="0.18" textLength="3.38" lengthAdjust="spacingAndGlyphs">0</text>
<line x1="205.16" y1="419.9" x2="205.16" y2="422.7" stroke="#262626" stroke-width="0.95"/>
<text x="203.39" y="431.20" font-size="6.07" fill="#2a2a2a" stroke="#2a2a2a" stroke-width="0.18" textLength="3.38" lengthAdjust="spacingAndGlyphs">1</text>
<line x1="223.82" y1="419.9" x2="223.82" y2="422.7" stroke="#262626" stroke-width="0.95"/>
<text x="222.13" y="431.20" font-size="6.07" fill="#2a2a2a" stroke="#2a2a2a" stroke-width="0.18" textLength="3.38" lengthAdjust="spacingAndGlyphs">2</text>
<line x1="242.48" y1="419.9" x2="242.48" y2="422.7" stroke="#262626" stroke-width="0.95"/>
<text x="240.81" y="431.20" font-size="6.07" fill="#2a2a2a" stroke="#2a2a2a" stroke-width="0.18" textLength="3.38" lengthAdjust="spacingAndGlyphs">3</text>
<line x1="261.14" y1="419.9" x2="261.14" y2="422.7" stroke="#262626" stroke-width="0.95"/>
<text x="259.47" y="431.20" font-size="6.07" fill="#2a2a2a" stroke="#2a2a2a" stroke-width="0.18" textLength="3.38" lengthAdjust="spacingAndGlyphs">4</text>
<line x1="279.80" y1="419.9" x2="279.80" y2="422.7" stroke="#262626" stroke-width="0.95"/>
<text x="278.12" y="431.20" font-size="6.07" fill="#2a2a2a" stroke="#2a2a2a" stroke-width="0.18" textLength="3.38" lengthAdjust="spacingAndGlyphs">5</text>
<line x1="298.46" y1="419.9" x2="298.46" y2="422.7" stroke="#262626" stroke-width="0.95"/>
<text x="296.75" y="431.20" font-size="6.07" fill="#2a2a2a" stroke="#2a2a2a" stroke-width="0.18" textLength="3.38" lengthAdjust="spacingAndGlyphs">6</text>
<line x1="317.12" y1="419.9" x2="317.12" y2="422.7" stroke="#262626" stroke-width="0.95"/>
<text x="315.43" y="431.20" font-size="6.07" fill="#2a2a2a" stroke="#2a2a2a" stroke-width="0.18" textLength="3.38" lengthAdjust="spacingAndGlyphs">7</text>
<line x1="335.78" y1="419.9" x2="335.78" y2="422.7" stroke="#262626" stroke-width="0.95"/>
<text x="334.09" y="431.20" font-size="6.07" fill="#2a2a2a" stroke="#2a2a2a" stroke-width="0.18" textLength="3.38" lengthAdjust="spacingAndGlyphs">8</text>
<line x1="354.44" y1="419.9" x2="354.44" y2="422.7" stroke="#262626" stroke-width="0.95"/>
<text x="352.75" y="431.20" font-size="6.07" fill="#2a2a2a" stroke="#2a2a2a" stroke-width="0.18" textLength="3.38" lengthAdjust="spacingAndGlyphs">9</text>
<line x1="373.10" y1="419.9" x2="373.10" y2="422.7" stroke="#262626" stroke-width="0.95"/>
<text x="369.61" y="431.20" font-size="6.07" fill="#2a2a2a" stroke="#2a2a2a" stroke-width="0.18" textLength="6.76" lengthAdjust="spacingAndGlyphs">10</text>
<text x="263.37" y="442.40" font-size="8.43" fill="#2a2a2a" stroke="#2a2a2a" stroke-width="0.2" textLength="33.63" lengthAdjust="spacingAndGlyphs">Time in years</text>
<text transform="translate(154.0,379.0) rotate(-90)" x="-0.26" y="0" font-size="8.58" fill="#222" stroke="#222" stroke-width="0.4" textLength="47.77" lengthAdjust="spacingAndGlyphs">Survival probability</text>
<text x="202.31" y="388.90" font-size="6.70" fill="#262626" stroke="#262626" stroke-width="0.18" textLength="15.88" lengthAdjust="spacingAndGlyphs">No. of</text>
<text x="224.51" y="388.90" font-size="6.70" fill="#262626" stroke="#262626" stroke-width="0.18" textLength="15.88" lengthAdjust="spacingAndGlyphs">No. of</text>
<text x="244.92" y="388.90" font-size="6.70" fill="#262626" stroke="#262626" stroke-width="0.18" textLength="37.97" lengthAdjust="spacingAndGlyphs">Median overall</text>
<text x="200.01" y="395.80" font-size="6.70" fill="#262626" stroke="#262626" stroke-width="0.18" textLength="21.42" lengthAdjust="spacingAndGlyphs">patients</text>
<text x="223.65" y="395.80" font-size="6.70" fill="#262626" stroke="#262626" stroke-width="0.18" textLength="18.07" lengthAdjust="spacingAndGlyphs">deaths</text>
<text x="245.04" y="395.80" font-size="6.70" fill="#262626" stroke="#262626" stroke-width="0.18" textLength="38.21" lengthAdjust="spacingAndGlyphs">survival (years)</text>
<text x="185.38" y="404.60" font-size="6.25" fill="#262626" stroke="#262626" stroke-width="0.18" textLength="6.60" lengthAdjust="spacingAndGlyphs">Fit</text>
<text x="205.30" y="404.60" font-size="6.25" fill="#262626" stroke="#262626" stroke-width="0.18" textLength="10.43" lengthAdjust="spacingAndGlyphs">396</text>
<text x="227.39" y="404.60" font-size="6.25" fill="#262626" stroke="#262626" stroke-width="0.18" textLength="10.43" lengthAdjust="spacingAndGlyphs">176</text>
<text x="247.90" y="404.60" font-size="6.25" fill="#262626" stroke="#262626" stroke-width="0.18" textLength="32.34" lengthAdjust="spacingAndGlyphs">3.6 (1.9-6.0)</text>
<text x="179.45" y="410.40" font-size="6.25" fill="#262626" stroke="#262626" stroke-width="0.18" textLength="18.81" lengthAdjust="spacingAndGlyphs">Prefrail</text>
<text x="205.27" y="410.40" font-size="6.25" fill="#262626" stroke="#262626" stroke-width="0.18" textLength="10.43" lengthAdjust="spacingAndGlyphs">739</text>
<text x="227.56" y="410.40" font-size="6.25" fill="#262626" stroke="#262626" stroke-width="0.18" textLength="10.43" lengthAdjust="spacingAndGlyphs">499</text>
<text x="247.90" y="410.40" font-size="6.25" fill="#262626" stroke="#262626" stroke-width="0.18" textLength="32.34" lengthAdjust="spacingAndGlyphs">3.1 (1.5-5.4)</text>
<text x="183.08" y="416.20" font-size="6.25" fill="#262626" stroke="#262626" stroke-width="0.18" textLength="11.54" lengthAdjust="spacingAndGlyphs">Frail</text>
<text x="205.25" y="416.20" font-size="6.25" fill="#262626" stroke="#262626" stroke-width="0.18" textLength="10.43" lengthAdjust="spacingAndGlyphs">250</text>
<text x="227.45" y="416.20" font-size="6.25" fill="#262626" stroke="#262626" stroke-width="0.18" textLength="10.43" lengthAdjust="spacingAndGlyphs">210</text>
<text x="246.14" y="416.20" font-size="6.25" fill="#262626" stroke="#262626" stroke-width="0.18" textLength="35.65" lengthAdjust="spacingAndGlyphs">1.4 (0.47-3.1)</text>
<text x="364.22" y="337.80" font-size="6.70" fill="#262626" stroke="#262626" stroke-width="0.18" textLength="17.62" lengthAdjust="spacingAndGlyphs">mFI Fit</text>
<text x="329.55" y="356.10" font-size="6.70" fill="#262626" stroke="#262626" stroke-width="0.18" textLength="52.63" lengthAdjust="spacingAndGlyphs">adj.HR 1.3 (1.1-1.6)</text>
<text x="352.11" y="363.80" font-size="6.70" fill="#262626" stroke="#262626" stroke-width="0.18" textLength="30.08" lengthAdjust="spacingAndGlyphs">mFI Prefrail</text>
<text x="359.52" y="383.70" font-size="6.70" fill="#262626" stroke="#262626" stroke-width="0.18" textLength="22.67" lengthAdjust="spacingAndGlyphs">mFI Frail</text>
<text x="329.55" y="398.40" font-size="6.70" fill="#262626" stroke="#262626" stroke-width="0.18" textLength="52.63" lengthAdjust="spacingAndGlyphs">adj.HR 2.1 (1.6-2.7)</text>
<polyline points="186.65,295.90 189.30,298.00 194.20,299.80 200.40,301.60 206.50,303.20 212.60,304.40 218.70,305.90 224.90,307.80 231.00,309.30 240.00,311.30 247.30,312.20 254.70,314.40 262.00,317.10 270.60,318.60 276.70,319.60 285.60,322.70 296.20,325.80 306.70,328.00 317.30,330.70 327.90,332.80 338.50,335.00 349.00,337.10 359.60,338.60 370.20,339.60 382.90,341.30" fill="none" stroke="#3d6898" stroke-width="1.1" stroke-linejoin="round" stroke-linecap="round"/>
<polyline points="186.65,295.90 188.10,299.20 191.80,302.90 196.70,305.30 202.80,308.40 208.90,311.40 215.10,313.90 218.70,315.70 221.20,318.80 226.10,320.60 231.00,322.40 237.10,324.90 242.00,326.70 247.30,328.80 254.70,332.40 262.00,336.10 269.40,339.20 276.70,341.00 282.90,344.70 291.40,349.00 296.20,350.20 306.70,353.40 317.30,357.60 327.90,360.30 338.50,363.30 349.00,366.70 359.60,369.20 370.20,371.30 382.90,372.40" fill="none" stroke="#eaa83e" stroke-width="1.1" stroke-linejoin="round" stroke-linecap="round"/>
<polyline points="186.65,295.90 187.50,299.80 189.30,302.90 193.00,307.10 197.90,311.40 202.80,314.50 207.70,318.20 212.60,320.60 217.50,323.70 220.00,326.70 222.40,329.20 226.10,330.40 228.50,333.50 233.40,335.90 240.00,338.90 246.10,341.00 252.20,344.70 258.40,348.40 262.00,352.00 269.40,355.10 275.50,356.50 281.30,360.80 287.70,365.40 296.20,368.80 306.70,371.80 317.30,375.60 327.90,378.10 338.50,380.90 349.00,383.60 359.60,386.20 370.20,388.70 382.90,390.00" fill="none" stroke="#b8284a" stroke-width="1.1" stroke-linejoin="round" stroke-linecap="round"/>
<text x="179.50" y="452.80" font-size="6.54" font-weight="bold" fill="#262626" textLength="41.69" lengthAdjust="spacingAndGlyphs">Number at risk</text>
<text x="167.74" y="462.70" font-size="6.54" fill="#4f6799" stroke="#4f6799" stroke-width="0.05" textLength="6.90" lengthAdjust="spacingAndGlyphs">Fit</text>
<text x="181.33" y="462.70" font-size="6.54" fill="#2a2a2a" stroke="#2a2a2a" stroke-width="0.18" textLength="10.37" lengthAdjust="spacingAndGlyphs">396</text>
<text x="218.65" y="462.70" font-size="6.54" fill="#2a2a2a" stroke="#2a2a2a" stroke-width="0.18" textLength="10.37" lengthAdjust="spacingAndGlyphs">346</text>
<text x="255.95" y="462.70" font-size="6.54" fill="#2a2a2a" stroke="#2a2a2a" stroke-width="0.18" textLength="10.37" lengthAdjust="spacingAndGlyphs">291</text>
<text x="293.28" y="462.70" font-size="6.54" fill="#2a2a2a" stroke="#2a2a2a" stroke-width="0.18" textLength="10.37" lengthAdjust="spacingAndGlyphs">232</text>
<text x="330.51" y="462.70" font-size="6.54" fill="#2a2a2a" stroke="#2a2a2a" stroke-width="0.18" textLength="10.37" lengthAdjust="spacingAndGlyphs">181</text>
<text x="367.82" y="462.70" font-size="6.54" fill="#2a2a2a" stroke="#2a2a2a" stroke-width="0.18" textLength="10.37" lengthAdjust="spacingAndGlyphs">136</text>
<text x="155.33" y="472.40" font-size="6.54" fill="#e3ac5c" stroke="#e3ac5c" stroke-width="0.05" textLength="19.68" lengthAdjust="spacingAndGlyphs">Prefrail</text>
<text x="181.30" y="472.40" font-size="6.54" fill="#2a2a2a" stroke="#2a2a2a" stroke-width="0.18" textLength="10.37" lengthAdjust="spacingAndGlyphs">739</text>
<text x="218.63" y="472.40" font-size="6.54" fill="#2a2a2a" stroke="#2a2a2a" stroke-width="0.18" textLength="10.37" lengthAdjust="spacingAndGlyphs">619</text>
<text x="256.04" y="472.40" font-size="6.54" fill="#2a2a2a" stroke="#2a2a2a" stroke-width="0.18" textLength="10.37" lengthAdjust="spacingAndGlyphs">492</text>
<text x="293.29" y="472.40" font-size="6.54" fill="#2a2a2a" stroke="#2a2a2a" stroke-width="0.18" textLength="10.37" lengthAdjust="spacingAndGlyphs">373</text>
<text x="330.60" y="472.40" font-size="6.54" fill="#2a2a2a" stroke="#2a2a2a" stroke-width="0.18" textLength="10.37" lengthAdjust="spacingAndGlyphs">282</text>
<text x="367.83" y="472.40" font-size="6.54" fill="#2a2a2a" stroke="#2a2a2a" stroke-width="0.18" textLength="10.37" lengthAdjust="spacingAndGlyphs">199</text>
<text x="162.93" y="481.80" font-size="6.54" fill="#b83a5c" stroke="#b83a5c" stroke-width="0.05" textLength="12.08" lengthAdjust="spacingAndGlyphs">Frail</text>
<text x="181.28" y="481.80" font-size="6.54" fill="#2a2a2a" stroke="#2a2a2a" stroke-width="0.18" textLength="10.37" lengthAdjust="spacingAndGlyphs">250</text>
<text x="218.49" y="481.80" font-size="6.54" fill="#2a2a2a" stroke="#2a2a2a" stroke-width="0.18" textLength="10.37" lengthAdjust="spacingAndGlyphs">154</text>
<text x="257.63" y="481.80" font-size="6.54" fill="#2a2a2a" stroke="#2a2a2a" stroke-width="0.18" textLength="6.91" lengthAdjust="spacingAndGlyphs">94</text>
<text x="294.98" y="481.80" font-size="6.54" fill="#2a2a2a" stroke="#2a2a2a" stroke-width="0.18" textLength="6.91" lengthAdjust="spacingAndGlyphs">65</text>
<text x="332.40" y="481.80" font-size="6.54" fill="#2a2a2a" stroke="#2a2a2a" stroke-width="0.18" textLength="6.91" lengthAdjust="spacingAndGlyphs">41</text>
<text x="369.64" y="481.80" font-size="6.54" fill="#2a2a2a" stroke="#2a2a2a" stroke-width="0.18" textLength="6.91" lengthAdjust="spacingAndGlyphs">27</text>
<rect x="0.5" y="0.5" width="519" height="489" fill="none" stroke="#4a4a4a" stroke-width="1"/>
</svg></body></html>
